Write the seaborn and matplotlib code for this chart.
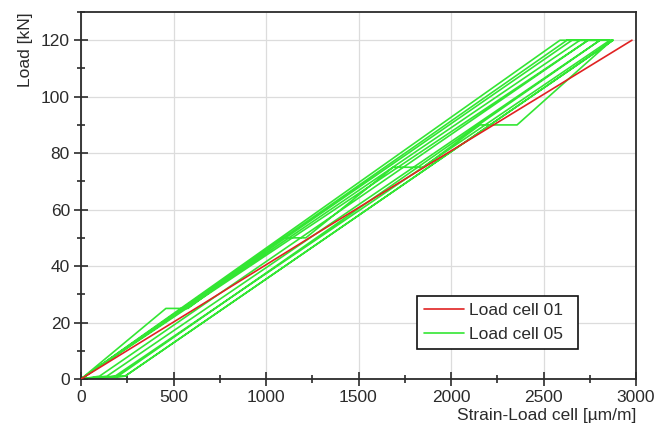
import numpy as np
import pandas as pd
import matplotlib
matplotlib.use("Agg")
import matplotlib.pyplot as plt
import seaborn as sns
from matplotlib.ticker import MultipleLocator
from matplotlib.lines import Line2D

# ---- data ----
red_strain = [0, 620, 1235, 1855, 2480, 2978]
red_load = [0, 25, 50, 75, 100, 120]

# Load cell 05: several load cycles (stepped first cycle, then smooth cycles)
green_strain = [0, 459, 578, 1092, 1215, 1687, 1849, 2157, 2357, 2870, 2876, 238, 0,
                2589, 2741, 100, 0,
                2627, 2805, 140, 0,
                2654, 2859, 184, 0,
                2697, 2876, 238, 0,
                2741, 2805, 200, 0]
green_load = [0, 25, 25, 50, 50, 75, 75, 90, 90, 120, 120, 1, 0,
              120, 120, 1, 0,
              120, 120, 1, 0,
              120, 120, 1, 0,
              120, 120, 1, 0,
              120, 120, 1, 0]

x_ticks = [0, 500, 1000, 1500, 2000, 2500, 3000]
y_ticks = [0, 20, 40, 60, 80, 100, 120]

df = pd.concat([
    pd.DataFrame({"strain": red_strain, "load": red_load, "series": "Load cell 01"}),
    pd.DataFrame({"strain": green_strain, "load": green_load, "series": "Load cell 05"}),
], ignore_index=True)

sns.set_style("ticks")
plt.rcParams["font.family"] = ["Liberation Sans", "DejaVu Sans"]

fig = plt.figure(figsize=(6.58, 4.28), dpi=100)
ax = fig.add_axes([81 / 658, 1 - 379 / 428, (636 - 81) / 658, (379 - 12) / 428])

palette = {"Load cell 01": "#e02222", "Load cell 05": "#33e633"}
sns.lineplot(data=df[df.series == "Load cell 05"], x="strain", y="load", hue="series",
             palette=palette, sort=False, estimator=None, units="series",
             linewidth=1.2, ax=ax, zorder=2, legend=False)
sns.lineplot(data=df[df.series == "Load cell 01"], x="strain", y="load", hue="series",
             palette=palette, sort=False, estimator=None, units="series",
             linewidth=1.2, ax=ax, zorder=3, legend=False)

ax.set_xlim(0, 3000)
ax.set_ylim(0, 130)
ax.set_xticks(x_ticks)
ax.set_yticks(y_ticks)
ax.xaxis.set_minor_locator(MultipleLocator(250))
ax.yaxis.set_minor_locator(MultipleLocator(10))
ax.grid(True, which="major", color="#dcdcdc", linewidth=0.9)
ax.set_axisbelow(True)

tc = "#2b2b2b"
ax.tick_params(which="major", direction="inout", length=10, width=1.2, colors=tc,
               labelsize=12.5, pad=3, top=False, right=False)
ax.tick_params(which="minor", direction="inout", length=6, width=1.2, colors=tc,
               top=False, right=False)
for s in ax.spines.values():
    s.set_visible(True)
    s.set_color(tc)
    s.set_linewidth(1.3)

ax.set_xlabel("Strain-Load cell [µm/m]", fontsize=12.5, color=tc, loc="right", labelpad=2)
ax.set_ylabel("Load [kN]", fontsize=12.5, color=tc, loc="top", labelpad=6)

handles = [Line2D([], [], color=palette["Load cell 01"], lw=1.2),
           Line2D([], [], color=palette["Load cell 05"], lw=1.2)]
leg = ax.legend(handles, ["Load cell 01", "Load cell 05"], loc="lower left",
                bbox_to_anchor=(0.605, 0.082, 0.29, 0.144), mode="expand",
                borderaxespad=0, fontsize=12.5, frameon=True, fancybox=False,
                handlelength=2.3, handletextpad=0.3, labelspacing=0.5,
                borderpad=0.4)
leg.get_frame().set_edgecolor("#111111")
leg.get_frame().set_linewidth(1.2)
leg.get_frame().set_alpha(1)
for t in leg.get_texts():
    t.set_color(tc)

fig.savefig("out.png", dpi=100)
